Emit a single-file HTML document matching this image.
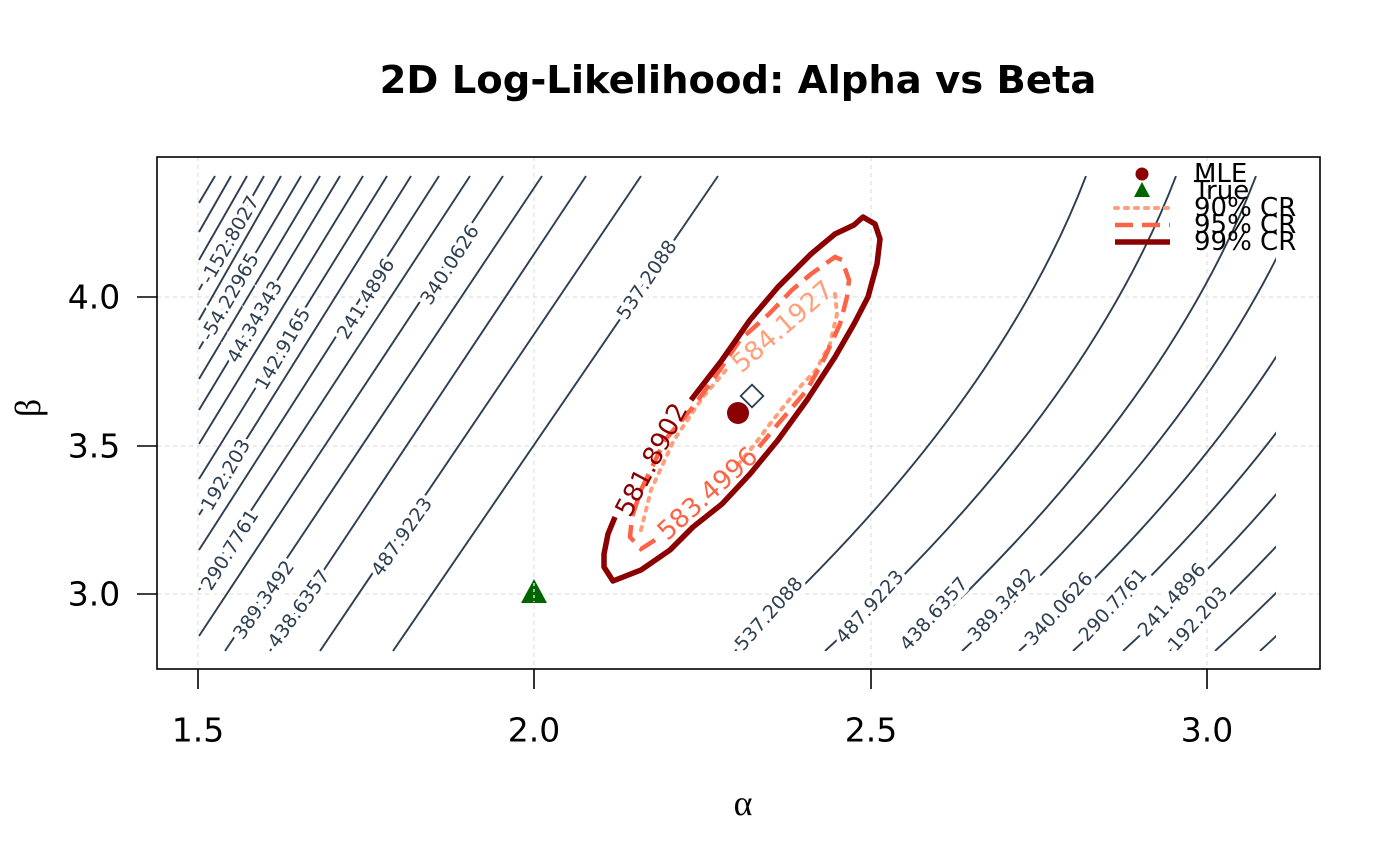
<!DOCTYPE html>
<html><head><meta charset="utf-8"><style>
html,body{margin:0;padding:0;background:#fff;}
svg{display:block;font-family:"DejaVu Sans","Liberation Sans",sans-serif;}
.cl{stroke:#2c3e50;stroke-width:1.9;fill:none;}
.lb{font-size:19px;fill:#2c3e50;stroke:#fff;stroke-width:8px;paint-order:stroke;text-anchor:middle;dominant-baseline:central;}
</style></head><body>
<svg width="1400" height="866" viewBox="0 0 1400 866" xmlns="http://www.w3.org/2000/svg">
<defs><clipPath id="c"><rect x="198" y="176" width="1078" height="475"/></clipPath></defs>
<text x="738" y="93" font-size="38.5" font-weight="bold" text-anchor="middle">2D Log-Likelihood: Alpha vs Beta</text>
<g stroke="#e0e0e0" stroke-width="1.2" stroke-dasharray="4,4">
<line x1="198" y1="157" x2="198" y2="669"/><line x1="534" y1="157" x2="534" y2="669"/>
<line x1="871" y1="157" x2="871" y2="669"/><line x1="1207" y1="157" x2="1207" y2="669"/>
<line x1="157" y1="297" x2="1320" y2="297"/><line x1="157" y1="446" x2="1320" y2="446"/><line x1="157" y1="594" x2="1320" y2="594"/>
</g>
<g class="cl">
<line x1="215" y1="176" x2="199" y2="203"/>
<line x1="231" y1="176" x2="199" y2="232"/>
<line x1="247" y1="176" x2="199" y2="260"/>
<line x1="264" y1="176" x2="199" y2="290"/>
<line x1="281" y1="176" x2="199" y2="320"/>
<line x1="301" y1="176" x2="199" y2="349"/>
<line x1="320" y1="176" x2="199" y2="379"/>
<line x1="340" y1="176" x2="199" y2="410"/>
<line x1="363" y1="176" x2="199" y2="444"/>
<line x1="387" y1="176" x2="199" y2="479"/>
<line x1="411" y1="176" x2="199" y2="515"/>
<line x1="439" y1="176" x2="199" y2="550"/>
<line x1="470" y1="176" x2="199" y2="590"/>
<line x1="503" y1="176" x2="199" y2="636"/>
<line x1="542" y1="176" x2="225" y2="651"/>
<line x1="586" y1="176" x2="270" y2="651"/>
<line x1="641" y1="176" x2="320" y2="651"/>
<line x1="718" y1="176" x2="393" y2="651"/>
</g>
<g class="cl" clip-path="url(#c)">
<path d="M735 651 Q995 413.5 1086 176"/>
<path d="M825 651 Q1085 413.5 1176 176"/>
<path d="M905 651 Q1165 413.5 1256 176"/>
<path d="M962 651 Q1222 413.5 1313 176"/>
<path d="M1019 651 Q1279 413.5 1370 176"/>
<path d="M1073 651 Q1333 413.5 1424 176"/>
<path d="M1123 651 Q1383 413.5 1474 176"/>
<path d="M1170 651 Q1430 413.5 1521 176"/>
<path d="M1215 651 Q1475 413.5 1566 176"/>
<path d="M1260 651 Q1520 413.5 1611 176"/>
</g>
<g class="lb">
<text transform="translate(230,240) rotate(-60)">-152.8027</text>
<text transform="translate(230,297) rotate(-60)">-54.22965</text>
<text transform="translate(255,322) rotate(-60)">44.34343</text>
<text transform="translate(283,349) rotate(-60)">142.9165</text>
<text transform="translate(366,299) rotate(-58)">241.4896</text>
<text transform="translate(450,265) rotate(-57)">340.0626</text>
<text transform="translate(647,280) rotate(-56)">537.2088</text>
<text transform="translate(226,475) rotate(-60)">192.203</text>
<text transform="translate(230,550) rotate(-58)">290.7761</text>
<text transform="translate(264,600) rotate(-55)">389.3492</text>
<text transform="translate(299,609) rotate(-54)">438.6357</text>
<text transform="translate(402,537) rotate(-55)">487.9223</text>
</g>
<g class="lb">
<text transform="translate(769,614) rotate(-48)">537.2088</text>
<text transform="translate(870,607) rotate(-48)">487.9223</text>
<text transform="translate(934,614) rotate(-48)">438.6357</text>
<text transform="translate(1002,605) rotate(-48)">389.3492</text>
<text transform="translate(1059,609) rotate(-48)">340.0626</text>
<text transform="translate(1113,605) rotate(-48)">290.7761</text>
<text transform="translate(1172,600) rotate(-48)">241.4896</text>
<text transform="translate(1198,619) rotate(-48)">192.203</text>
</g>
<path d="M641 530 L651 490 L674 440 L703 397 L726 370 M835 294 L837 314 L830 344 L816 370 L797 390 L773 420 L755 444 L736 467" fill="none" stroke="#ffa07a" stroke-width="4" stroke-dasharray="3,7" stroke-linecap="round"/>
<path d="M655 540 L641 549 L630 537 L632 517 L641 490 L665 440 L693 407 L717 374 L740 340 L769 314 L792 290 L811 274 L835 257 L842 260 L849 280 L847 297 L840 324 L825 357 L807 390 L778 424 L759 447" fill="none" stroke="#ff6347" stroke-width="4.5" stroke-dasharray="18,9"/>
<path d="M691 400 L722 360 L750 320 L778 287 L811 254 L835 234 L854 225 L863 217 L875 224 L880 239 L877 264 L868 297 L854 324 L835 357 L807 400 L778 440 L750 474 L722 504 L693 527 L670 550 L641 570 L613 581 L604 567 L604 554 L608 534 L615 517" fill="none" stroke="#8b0000" stroke-width="5.5" stroke-linejoin="round"/>
<g font-size="26" text-anchor="middle" dominant-baseline="central">
<text transform="translate(652,460) rotate(-62)" fill="#8b0000">581.8902</text>
<text transform="translate(708,494) rotate(-42)" fill="#ff6347">583.4996</text>
<text transform="translate(783,327) rotate(-41)" fill="#ffa07a">584.1927</text>
</g>
<circle cx="738" cy="413" r="11" fill="#8b0000"/>
<rect x="744" y="388" width="16" height="16" fill="none" stroke="#2c3e50" stroke-width="1.8" transform="rotate(45 752 396)"/>
<polygon points="534,579 547,603 521,603" fill="#006400"/>
<line x1="534" y1="583" x2="534" y2="602" stroke="#fff" stroke-width="1.2" stroke-dasharray="3,3"/>
<circle cx="1142" cy="174" r="6.5" fill="#8b0000"/>
<polygon points="1142,182 1150,197 1134,197" fill="#006400"/>
<line x1="1115" y1="208" x2="1170" y2="208" stroke="#ffa07a" stroke-width="4" stroke-dasharray="3,7" stroke-linecap="round"/>
<line x1="1115" y1="225" x2="1170" y2="225" stroke="#ff6347" stroke-width="4.5" stroke-dasharray="18,9"/>
<line x1="1115" y1="242" x2="1170" y2="242" stroke="#8b0000" stroke-width="5.5"/>
<g font-size="26" dominant-baseline="central">
<text x="1194" y="174">MLE</text><text x="1194" y="191">True</text>
<text x="1194" y="208">90% CR</text><text x="1194" y="225">95% CR</text><text x="1194" y="242">99% CR</text>
</g>
<rect x="157" y="157" width="1163" height="512" fill="none" stroke="#000" stroke-width="1.6"/>
<g stroke="#000" stroke-width="1.6">
<line x1="198" y1="669" x2="198" y2="689"/><line x1="534" y1="669" x2="534" y2="689"/>
<line x1="871" y1="669" x2="871" y2="689"/><line x1="1207" y1="669" x2="1207" y2="689"/>
<line x1="137" y1="297" x2="157" y2="297"/><line x1="137" y1="446" x2="157" y2="446"/><line x1="137" y1="594" x2="157" y2="594"/>
</g>
<g font-size="33" text-anchor="middle" dominant-baseline="central">
<text x="198" y="730">1.5</text><text x="534" y="730">2.0</text><text x="871" y="730">2.5</text><text x="1207" y="730">3.0</text>
<text x="94" y="297">4.0</text><text x="94" y="446">3.5</text><text x="94" y="594">3.0</text>
</g>
<text x="743" y="815" font-size="36" text-anchor="middle" font-family="Liberation Serif, serif">α</text>
<text transform="translate(40,408) rotate(-90)" font-size="36" text-anchor="middle" font-family="Liberation Serif, serif">β</text>
</svg>
</body></html>
